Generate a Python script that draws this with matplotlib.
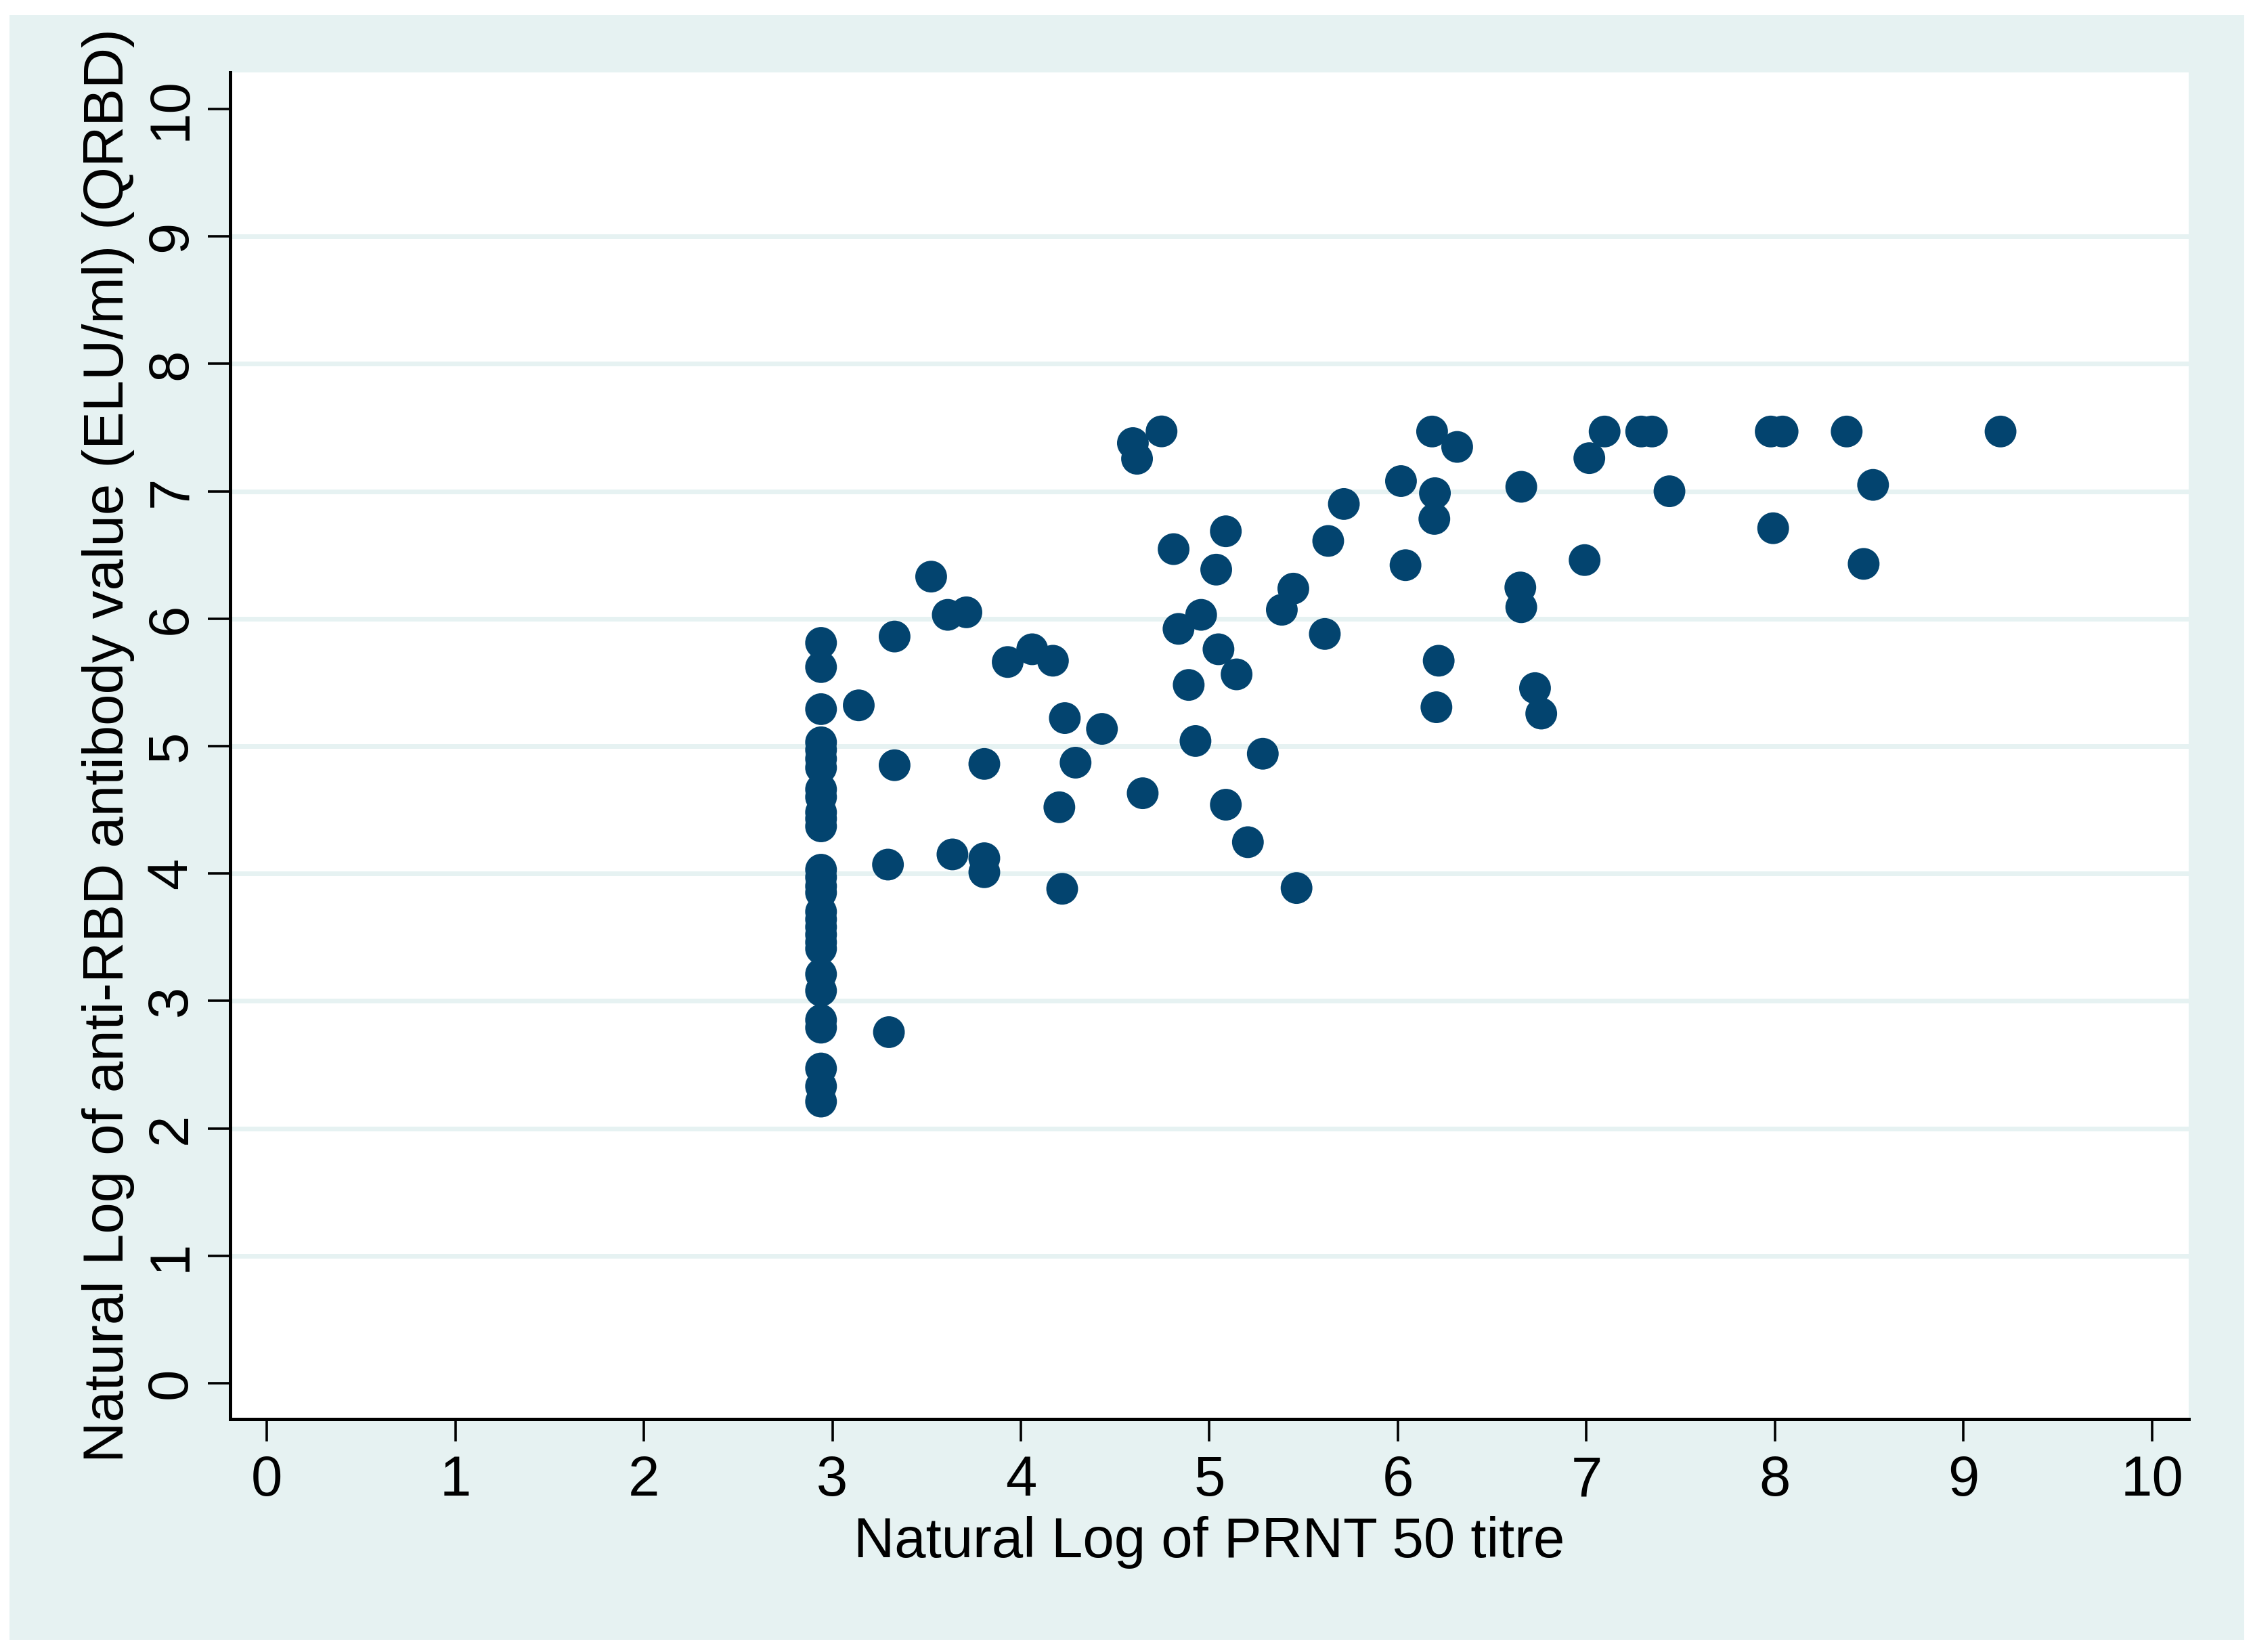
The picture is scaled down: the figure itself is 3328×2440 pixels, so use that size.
import matplotlib
matplotlib.use("Agg")
import matplotlib.pyplot as plt
from matplotlib.patches import Rectangle

# points stacked at the lower detection limit of PRNT (x ~ 2.94)
col_y = [5.81, 5.62, 5.29, 5.03, 4.97, 4.90, 4.83, 4.66, 4.60, 4.48, 4.43, 4.37,
         4.03, 3.97, 3.90, 3.85, 3.70, 3.64, 3.58, 3.52, 3.46, 3.41,
         3.21, 3.08, 2.85, 2.79, 2.47, 2.33, 2.21]
col_x = [2.94] * len(col_y)

# remaining points
other_x = [3.14, 3.295, 3.30, 3.33, 3.33, 3.524, 3.612, 3.711, 3.637, 3.806, 3.806, 3.806,
           3.93, 4.06, 4.17, 4.233, 4.204, 4.219, 4.29, 4.43,
           4.594, 4.616, 4.746, 4.646, 4.81, 4.836, 4.956, 4.89, 4.926,
           5.036, 5.087, 5.048, 5.144, 5.087, 5.204, 5.283,
           5.384, 5.445, 5.462, 5.612, 5.63, 5.713,
           6.016, 6.04, 6.181, 6.196, 6.193, 6.216, 6.204, 6.314,
           6.654, 6.649, 6.654, 6.727, 6.76, 6.99, 7.015, 7.096, 7.29, 7.347, 7.44,
           7.977, 8.04, 7.99, 8.38, 8.52, 8.47, 9.196]
other_y = [5.32, 4.07, 2.755, 5.86, 4.85, 6.33, 6.03, 6.05, 4.15, 4.86, 4.12, 4.01,
           5.66, 5.76, 5.67, 5.22, 4.52, 3.88, 4.87, 5.135,
           7.378, 7.255, 7.47, 4.63, 6.546, 5.92, 6.03, 5.48, 5.04,
           6.385, 6.686, 5.76, 5.563, 4.54, 4.246, 4.94,
           6.07, 6.236, 3.886, 5.88, 6.61, 6.90,
           7.08, 6.42, 7.469, 6.985, 6.783, 5.67, 5.305, 7.348,
           7.035, 6.245, 6.09, 5.455, 5.255, 6.46, 7.26, 7.469, 7.469, 7.469, 7.00,
           7.469, 7.469, 6.71, 7.469, 7.05, 6.43, 7.469]

xs = col_x + other_x
ys = col_y + other_y

ticks = list(range(0, 11))

bg = "#E6F2F2"
navy = "#03446F"

W, H = 3328, 2440
fig = plt.figure(figsize=(W / 100, H / 100), dpi=100, facecolor="white")
fig.add_artist(Rectangle((14 / W, 1 - 2422 / H), (3315 - 14) / W, (2422 - 22) / H,
                         transform=fig.transFigure, facecolor=bg, edgecolor="none", zorder=-10))

ax = fig.add_axes([340 / W, 1 - 2096 / H, (3233 - 340) / W, (2096 - 107) / H])
ax.set_facecolor("white")

for t in ticks[1:-1]:
    ax.axhline(t, color=bg, lw=5, zorder=1)

ax.scatter(xs, ys, s=1140, color=navy, edgecolors="none", zorder=3)

ax.set_xlim(-0.194, 10.194)
ax.set_ylim(-0.282, 10.287)
ax.set_xticks(ticks)
ax.set_yticks(ticks)

font = "Liberation Sans"
fs = 60
for lab in ax.get_xticklabels() + ax.get_yticklabels():
    lab.set_fontfamily(font)
ax.tick_params(axis="both", direction="out", length=23.5, width=2.6, labelsize=fs, color="black")
ax.tick_params(axis="x", pad=14)
ax.tick_params(axis="y", pad=11)
for lab in ax.get_yticklabels():
    lab.set_rotation(90)
    lab.set_va("center")

for side in ["top", "right"]:
    ax.spines[side].set_visible(False)
for side in ["left", "bottom"]:
    ax.spines[side].set_linewidth(3.6)
    ax.spines[side].set_color("black")

ax.set_xlabel("Natural Log of PRNT 50 titre", fontsize=fs, fontfamily=font)
ax.set_ylabel("Natural Log of anti-RBD antibody value (ELU/ml) (QRBD)", fontsize=fs, fontfamily=font)
ax.xaxis.set_label_coords(0.5, -0.072)
ax.yaxis.set_label_coords(-0.0487, 0.5)

fig.savefig("out.png", dpi=100, facecolor="white")
